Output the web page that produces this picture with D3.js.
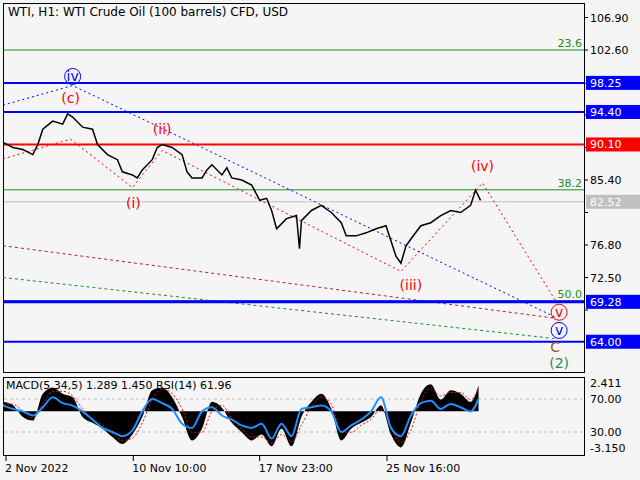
<!DOCTYPE html>
<meta charset="utf-8">
<style>
body { margin: 0; background: #f5f5f5; }
svg { font-family: Tahoma, "DejaVu Sans", sans-serif; }
</style>
<svg width="640" height="480"></svg>
<script src="https://cdn.jsdelivr.net/npm/d3@7"></script>
<script>

// price path as [bar, close]
var priceBars = [0,10,20,30,35,40,50,60,65,70,80,90,95,105,115,120,130,135,140,150,155,160,170,180,185,190,200,205,210,220,225,230,240,250,258,265,270,275,285,295,298,300,310,320,330,340,345,355,365,375,385,390,395,400,405,410,420,430,440,450,460,470,475,480];
var priceClose = [90.37,89.70,89.43,88.76,90.10,92.12,93.20,92.79,94.14,93.73,92.39,92.12,90.10,88.76,88.09,86.48,86.07,85.67,86.74,88.09,89.70,90.10,89.70,88.76,86.48,85.67,85.67,86.74,87.42,86.07,87.01,85.67,85.40,84.73,82.71,82.98,81.37,78.95,80.29,80.70,76.3,80.02,81.37,82.04,81.10,79.75,78.01,78.01,78.41,78.95,79.35,77.34,75.32,74.38,76.66,77.60,79.35,79.75,80.70,81.37,81.10,82.04,84.06,82.71];

var priceTicks = [106.90, 102.60, 98.20, 94.00, 89.70, 85.40, 81.10, 76.80, 72.50, 68.20];
var levels = [
  {v: 98.25, c: "#0000ff", w: 2, box: "#0000ff"},
  {v: 94.40, c: "#0000ff", w: 2, box: "#0000ff"},
  {v: 90.10, c: "#ff0000", w: 2, box: "#ff0000"},
  {v: 69.28, c: "#0000ff", w: 3, box: "#0000ff"},
  {v: 64.00, c: "#0000ff", w: 2, box: "#0000ff"}
];
var fibLevels = [102.6, 84.1, 69.4];
var fibLabels = ["23.6", "38.2", "50.0"];
var lastPrice = 82.52;

// wave paths [bar, price]
var redWave = [[0,88.2],[68,90.8],[130,84.4],[160,89.3],[400,73.3],[482,85.0],[557,69.1]];
var blueWave = [[0,95.3],[70,97.9],[556,67.2]];
var brownWave = [[0,76.7],[556,67.1]];
var greenWave = [[0,72.5],[556,64.4]];

var waveLabels = [
  {t: "iv", b: 70, p: 99.1, c: "#0000ff", circle: true},
  {t: "(c)", b: 68, p: 96.2, c: "#ff0000"},
  {t: "(ii)", b: 160, p: 92.1, c: "#ff0000"},
  {t: "(i)", b: 131, p: 82.3, c: "#ff0000"},
  {t: "(iii)", b: 410, p: 71.5, c: "#ff0000"},
  {t: "(iv)", b: 482, p: 87.2, c: "#ff0000"},
  {t: "v", b: 559, p: 67.9, c: "#ff0000", circle: true},
  {t: "v", b: 559, p: 65.5, c: "#0000ff", circle: true},
  {t: "C", b: 555, p: 63.3, c: "#a0522d"},
  {t: "(2)", b: 559, p: 61.2, c: "#2e8b57"}
];

var dateBars = [3, 131, 258, 386];
var dateLabels = ["2 Nov 2022", "10 Nov 10:00", "17 Nov 23:00", "25 Nov 16:00"];

// indicator, one value every 10 bars
var indBars = [0,10,20,30,40,50,60,70,80,90,100,110,120,130,140,150,160,170,180,190,200,210,220,230,240,250,260,270,280,290,300,310,320,330,340,350,360,370,380,390,400,410,420,430,440,450,460,470,478];
var macd = [0.8,0.5,-0.5,-0.8,1.5,2.0,1.5,1.2,-0.5,-1.0,-1.5,-2.2,-2.8,-2.0,-0.5,1.8,2.0,1.2,-0.5,-2.5,-1.5,0.8,0.3,-1.0,-1.8,-2.5,-2.0,-3.0,-1.5,-3.0,-0.5,0.8,1.5,0.2,-2.5,-1.5,-1.0,-0.5,0.5,-2.0,-3.1,-1.0,1.5,2.3,1.0,1.8,1.5,0.8,2.2];
var signal = [0.6,0.6,0.0,-0.6,0.6,1.7,1.7,1.3,0.2,-0.7,-1.2,-1.9,-2.5,-2.3,-1.0,1.0,1.9,1.5,0.2,-1.8,-1.8,0.0,0.5,-0.6,-1.5,-2.2,-2.2,-2.7,-2.0,-2.6,-1.2,0.4,1.2,0.6,-1.8,-1.8,-1.2,-0.7,0.2,-1.4,-2.7,-1.6,0.8,2.0,1.3,1.6,1.6,1.0,1.9];
var rsi = [62,58,55,50,60,72,65,62,55,45,35,30,25,32,55,70,65,58,40,35,55,60,50,45,38,35,40,22,40,25,58,60,62,55,30,38,45,55,72,35,25,50,65,68,58,64,60,55,70];

var svg = d3.select("svg");
var x = d3.scaleLinear().domain([0, 584]).range([3, 584]);
var y = d3.scaleLinear().domain([85.40, 76.80]).range([180, 245]);
var ym = d3.scaleLinear().domain([-3.15, 2.411]).range([448, 383]);
var yr = d3.scaleLinear().domain([30, 70]).range([432, 399]);

// frames
svg.append("rect").attr("x", 3.5).attr("y", 3.5).attr("width", 581).attr("height", 369)
  .attr("fill", "none").attr("stroke", "#000");
svg.append("rect").attr("x", 3.5).attr("y", 377.5).attr("width", 581).attr("height", 78)
  .attr("fill", "none").attr("stroke", "#000");

svg.append("text").attr("x", 8).attr("y", 16).attr("font-size", 12).text("WTI, H1:  WTI Crude Oil (100 barrels) CFD, USD");

// fib levels
svg.selectAll(".fib").data(fibLevels).join("line")
  .attr("x1", 4).attr("x2", 584).attr("y1", d => y(d)).attr("y2", d => y(d))
  .attr("stroke", "#228b22");
svg.selectAll(".fibt").data(fibLevels).join("text")
  .attr("x", 582).attr("y", d => y(d) - 3).attr("text-anchor", "end")
  .attr("font-size", 11).attr("fill", "#228b22").text((d, i) => fibLabels[i]);

svg.append("line").attr("x1", 4).attr("x2", 584).attr("y1", y(lastPrice)).attr("y2", y(lastPrice)).attr("stroke", "#c0c0c0");

// wave lines
var wl = d3.line().x(d => x(d[0])).y(d => y(d[1]));
[[redWave, "#ff0000", "2,3"], [blueWave, "#0000ff", "2,3"], [brownWave, "#b22222", "3,3"], [greenWave, "#228b22", "3,3"]]
  .forEach(function(w) {
    svg.append("path").attr("d", wl(w[0])).attr("fill", "none").attr("stroke", w[1]).attr("stroke-dasharray", w[2]);
  });

// horizontal levels
svg.selectAll(".lvl").data(levels).join("line")
  .attr("x1", 4).attr("x2", 584).attr("y1", d => y(d.v)).attr("y2", d => y(d.v))
  .attr("stroke", d => d.c).attr("stroke-width", d => d.w);

// price
var pts = priceBars.map((b, i) => [b, priceClose[i]]);
svg.append("path").attr("d", wl(pts)).attr("fill", "none").attr("stroke", "#000").attr("stroke-width", 1.5);

// wave labels
var g = svg.selectAll(".wv").data(waveLabels).join("g")
  .attr("transform", d => "translate(" + x(d.b) + "," + y(d.p) + ")");
g.filter(d => d.circle).append("circle").attr("r", 8).attr("fill", "none").attr("stroke", d => d.c);
g.append("text").attr("text-anchor", "middle").attr("dy", ".35em").attr("font-size", 14)
  .attr("fill", d => d.c).text(d => d.t);

// price axis (ticks hidden by level boxes are skipped)
var boxes = levels.concat([{v: lastPrice, box: "#c0c0c0"}]);
var freeTicks = priceTicks.filter(t => boxes.every(b => Math.abs(y(t) - y(b.v)) > 12));
svg.selectAll(".ptk").data(priceTicks).join("line")
  .attr("x1", 584).attr("x2", 588).attr("y1", d => y(d)).attr("y2", d => y(d)).attr("stroke", "#000");
svg.selectAll(".pt").data(freeTicks).join("text")
  .attr("x", 590).attr("y", d => y(d) + 4).attr("font-size", 11).text(d => d.toFixed(2));
var bg = svg.selectAll(".bx").data(boxes).join("g").attr("transform", d => "translate(586," + y(d.v) + ")");
bg.append("rect").attr("y", -7).attr("width", 54).attr("height", 14).attr("fill", d => d.box);
bg.append("text").attr("x", 4).attr("y", 4).attr("font-size", 11).attr("fill", "#fff").text(d => d.v.toFixed(2));

// indicator
svg.selectAll(".hl").data([70, 30]).join("line")
  .attr("x1", 4).attr("x2", 584).attr("y1", d => yr(d)).attr("y2", d => yr(d))
  .attr("stroke", "#bbb").attr("stroke-dasharray", "3,3");
var ipts = indBars.map((b, i) => [b, macd[i]]);
svg.append("path").attr("d", d3.area().x(d => x(d[0])).y0(ym(0)).y1(d => ym(d[1])).curve(d3.curveMonotoneX)(ipts))
  .attr("fill", "#000");
svg.append("path").attr("d", d3.line().x(d => x(d[0])).y(d => ym(d[1])).curve(d3.curveMonotoneX)(indBars.map((b, i) => [b, signal[i]])))
  .attr("fill", "none").attr("stroke", "#ff0000").attr("stroke-dasharray", "2,2");
svg.append("path").attr("d", d3.line().x(d => x(d[0])).y(d => yr(d[1])).curve(d3.curveMonotoneX)(indBars.map((b, i) => [b, rsi[i]])))
  .attr("fill", "none").attr("stroke", "#1e90ff").attr("stroke-width", 2);
svg.append("text").attr("x", 6).attr("y", 389).attr("font-size", 11).text("MACD(5,34,5) 1.289 1.450 RSI(14) 61.96");
svg.selectAll(".it").data([[2.411, "2.411", ym], [70, "70.00", yr], [30, "30.00", yr], [-3.15, "-3.150", ym]]).join("text")
  .attr("x", 590).attr("y", d => d[2](d[0]) + 4).attr("font-size", 11).text(d => d[1]);

// time axis
svg.selectAll(".dt").data(dateBars).join("line")
  .attr("x1", d => x(d)).attr("x2", d => x(d)).attr("y1", 456).attr("y2", 461).attr("stroke", "#000");
svg.selectAll(".dl").data(dateBars).join("text")
  .attr("x", d => x(d) - 1).attr("y", 472).attr("font-size", 11).text((d, i) => dateLabels[i]);

</script>
